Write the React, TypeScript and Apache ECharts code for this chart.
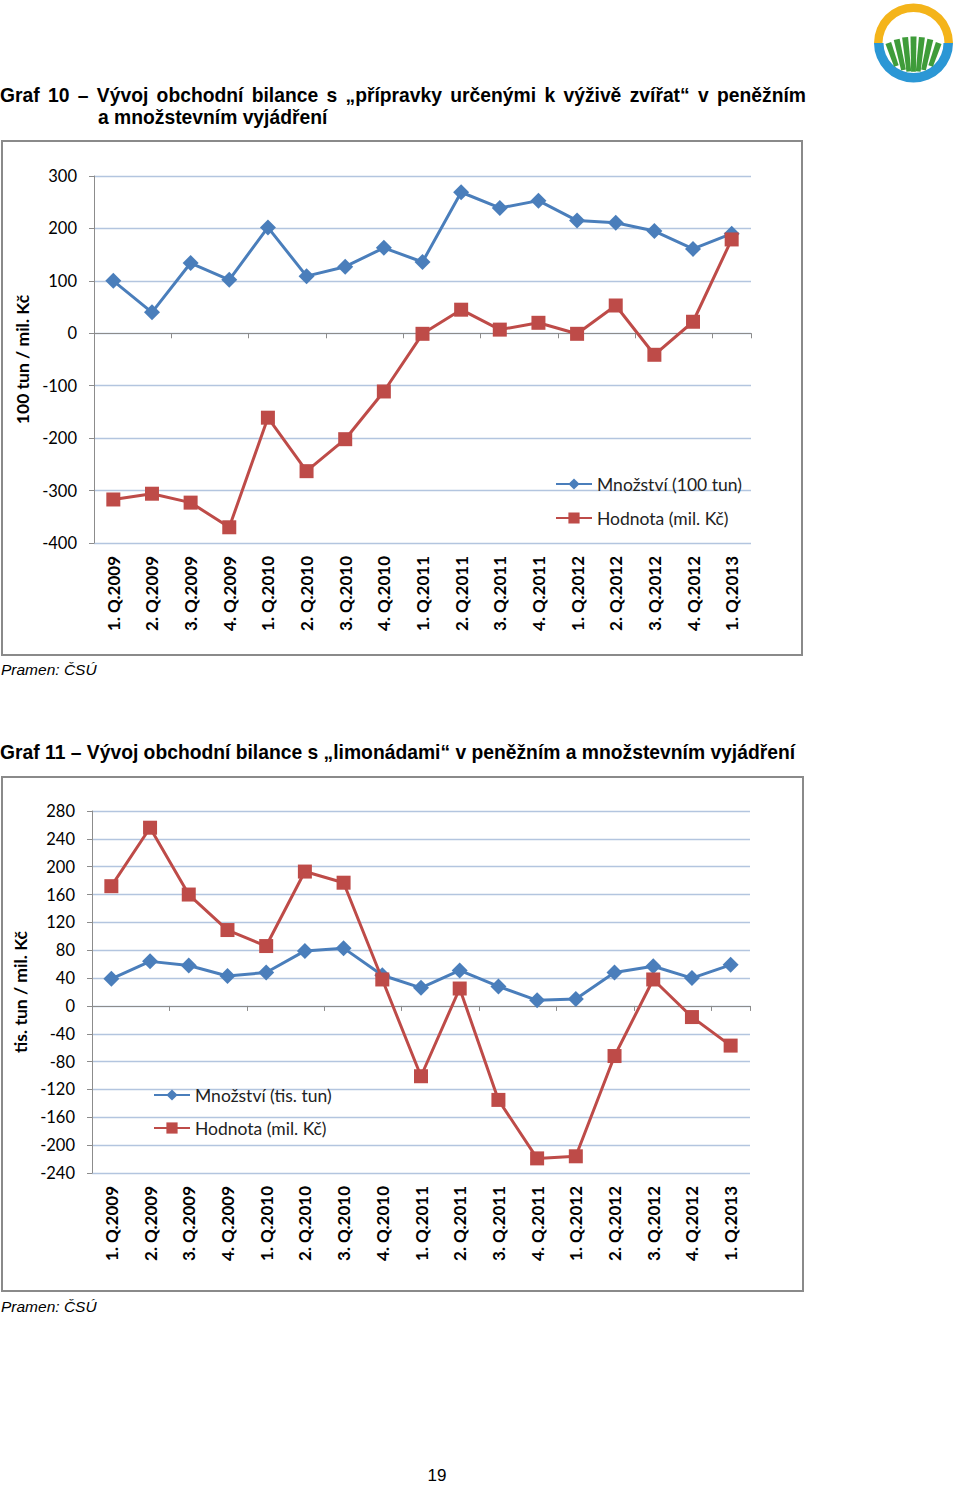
import React, { useEffect, useRef } from "react";
import * as echarts from "echarts";

const categories = [
  "1. Q.2009", "2. Q.2009", "3. Q.2009", "4. Q.2009",
  "1. Q.2010", "2. Q.2010", "3. Q.2010", "4. Q.2010",
  "1. Q.2011", "2. Q.2011", "3. Q.2011", "4. Q.2011",
  "1. Q.2012", "2. Q.2012", "3. Q.2012", "4. Q.2012",
  "1. Q.2013",
];

// Graf 10
const mnozstvi10 = [100, 40, 134, 102, 202, 109, 127, 163, 136, 269, 239, 253, 215, 211, 195, 161, 190];
const hodnota10 = [-317, -306, -323, -370, -161, -263, -202, -111, -1, 45, 7, 20, -1, 53, -41, 22, 179];

// Graf 11
const mnozstvi11 = [39, 64, 58, 43, 48, 79, 83, 44, 26, 51, 28, 8, 10, 48, 57, 40, 59];
const hodnota11 = [172, 256, 160, 109, 86, 193, 177, 38, -101, 25, -135, -219, -216, -72, 38, -16, -57];

const title10a = "Graf 10 – Vývoj obchodní bilance s „přípravky určenými k výživě zvířat“ v peněžním";
const title10b = "a množstevním vyjádření";
const title11 = "Graf 11 – Vývoj obchodní bilance s „limonádami“ v peněžním a množstevním vyjádření";
const source = "Pramen: ČSÚ";
const pageNo = "19";

const BLUE = "#4a7ebb";
const RED = "#be4b48";
const UI = 'Lato, "Noto Sans", sans-serif';
const DOC = '"Liberation Sans", Arial, sans-serif';
const TITLE_FONT = `bold 19.3px ${DOC}`;

function stripes() {
  const cx = 913.5, cy = 43, R = 28.5;
  const F = [913.5, 115];
  const out: any[] = [];
  for (let i = -3; i <= 3; i++) {
    const px = cx + i * 8.4;
    const py = 36.5 + 0.72 * i * i;
    let t = 0;
    while (t < 1) {
      const x = px + t * (F[0] - px), y = py + t * (F[1] - py);
      if (Math.hypot(x - cx, y - cy) > R) break;
      t += 0.005;
    }
    const bx = px + t * (F[0] - px), by = py + t * (F[1] - py);
    const dx = bx - px, dy = by - py;
    const len = Math.hypot(dx, dy) || 1;
    const nx = -dy / len, ny = dx / len;
    const wt = 3.0, wb = 2.4;
    out.push({
      type: "polygon",
      shape: { points: [[px + nx * wt, py + ny * wt], [px - nx * wt, py - ny * wt], [bx - nx * wb, by - ny * wb], [bx + nx * wb, by + ny * wb]] },
      style: { fill: "#3f9c3a" },
    });
  }
  return out;
}

function txt(text: string, x: number, y: number, font: string, align = "left") {
  return {
    type: "text",
    x, y,
    style: { text, font, fill: "#000", align, verticalAlign: "middle", textAlign: align, textVerticalAlign: "middle" },
  };
}

function justified(text: string, x0: number, x1: number, y: number, font: string) {
  const ctx = document.createElement("canvas").getContext("2d")!;
  ctx.font = font;
  const words = text.split(" ");
  const widths = words.map((w) => ctx.measureText(w).width);
  const total = widths.reduce((s, w) => s + w, 0);
  const gap = (x1 - x0 - total) / (words.length - 1);
  const out: any[] = [];
  let x = x0;
  words.forEach((w, i) => {
    out.push(txt(w, x, y, font));
    x += widths[i] + gap;
  });
  return out;
}

function axesFor(gi: number, min: number, max: number, interval: number, name: string, nameGap: number) {
  const xLabels = {
    type: "category", gridIndex: gi, data: categories, position: "bottom",
    axisLine: { show: false, onZero: false }, axisTick: { show: false }, splitLine: { show: false },
    axisLabel: { rotate: 90, margin: 13, fontFamily: UI, fontWeight: "bold", fontSize: 17, color: "#000", interval: 0 },
  };
  const xZero = {
    type: "category", gridIndex: gi, data: categories, position: "bottom",
    axisLine: { show: true, onZero: true, lineStyle: { color: "#8c8c8c", width: 1 } },
    axisTick: { show: true, length: 5, lineStyle: { color: "#8c8c8c" } },
    axisLabel: { show: false }, splitLine: { show: false },
  };
  const y = {
    type: "value", gridIndex: gi, min, max, interval,
    name, nameLocation: "middle", nameRotate: 90, nameGap,
    nameTextStyle: { fontFamily: UI, fontWeight: "bold", fontSize: 17.5, color: "#000" },
    axisLine: { show: true, lineStyle: { color: "#8c8c8c" } },
    axisTick: { show: true, length: 5, lineStyle: { color: "#8c8c8c" } },
    axisLabel: { fontFamily: UI, fontSize: 16.5, color: "#000", margin: 17 },
    splitLine: { show: true, lineStyle: { color: "#b3c5df", width: 1.3 } },
  };
  return { x: [xLabels, xZero], y };
}

function lineSeries(name: string, data: number[], gi: number, color: string, symbol: string, size: number) {
  return {
    type: "line", name, data, xAxisIndex: gi * 2, yAxisIndex: gi,
    symbol, symbolSize: size,
    lineStyle: { color, width: 3 },
    itemStyle: { color },
    z: symbol === "rect" ? 3 : 2,
  };
}

function buildOption() {
  const a1 = axesFor(0, -400, 300, 100, "100 tun / mil. Kč", 62);
  const a2 = axesFor(1, -240, 280, 40, "tis. tun / mil. Kč", 61);
  const legendText = { fontFamily: UI, fontSize: 17.5, color: "#222" };
  return {
    animation: false,
    backgroundColor: "#fff",
    grid: [
      { left: 94, top: 176, width: 657, height: 367 },
      { left: 92, top: 811, width: 658, height: 362 },
    ],
    xAxis: [...a1.x, ...a2.x.map((x: any) => ({ ...x, gridIndex: 1 }))],
    yAxis: [a1.y, a2.y],
    legend: [
      {
        orient: "vertical", left: 555, top: 475, padding: 0, itemWidth: 36, itemHeight: 14, itemGap: 16,
        data: ["Množství (100 tun)", "Hodnota (mil. Kč)"],
        textStyle: legendText,
      },
      {
        orient: "vertical", left: 153, top: 1086, padding: 0, itemWidth: 36, itemHeight: 14, itemGap: 15,
        data: ["Množství (tis. tun)", "Hodnota (mil. Kč)"],
        textStyle: legendText,
      },
    ],
    series: [
      lineSeries("Množství (100 tun)", mnozstvi10, 0, BLUE, "diamond", 16),
      lineSeries("Hodnota (mil. Kč)", hodnota10, 0, RED, "rect", 14),
      lineSeries("Množství (tis. tun)", mnozstvi11, 1, BLUE, "diamond", 16),
      lineSeries("Hodnota (mil. Kč)", hodnota11, 1, RED, "rect", 14),
    ],
    graphic: [
      { type: "rect", shape: { x: 2, y: 141, width: 800, height: 514 }, style: { fill: "none", stroke: "#8a8a8a", lineWidth: 2 }, silent: true },
      { type: "rect", shape: { x: 2, y: 777, width: 801, height: 514 }, style: { fill: "none", stroke: "#8a8a8a", lineWidth: 2 }, silent: true },
      ...justified(title10a, 0, 806, 95, TITLE_FONT),
      txt(title10b, 98, 117, TITLE_FONT),
      txt(title11, 0, 752, TITLE_FONT),
      txt(source, 1, 669, `italic 15.5px ${DOC}`),
      txt(source, 1, 1306, `italic 15.5px ${DOC}`),
      txt(pageNo, 437, 1475, `17px ${DOC}`, "center"),
      { type: "sector", shape: { cx: 913.5, cy: 43, r0: 31, r: 39.5, startAngle: Math.PI, endAngle: Math.PI * 2, clockwise: true }, style: { fill: "#f4b41a" } },
      { type: "sector", shape: { cx: 913.5, cy: 43, r0: 30, r: 39.5, startAngle: 0, endAngle: Math.PI, clockwise: true }, style: { fill: "#2b97d5" } },
      ...stripes(),
    ],
  };
}

export default function App() {
  const ref = useRef<HTMLDivElement>(null);
  useEffect(() => {
    const chart = echarts.init(ref.current!, null, { renderer: "svg" });
    chart.setOption(buildOption() as any);
    return () => chart.dispose();
  }, []);
  return (
    <div
      ref={ref}
      style={{ position: "absolute", left: 0, top: 0, width: 960, height: 1486, background: "#fff" }}
    />
  );
}
